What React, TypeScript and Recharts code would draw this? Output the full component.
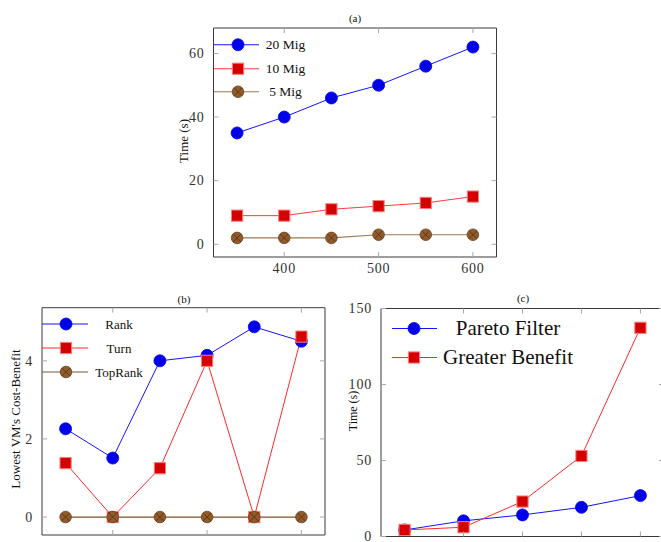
import React from "react";
import { LineChart, Line, XAxis, YAxis, Legend } from "recharts";

// (a) migration time
const migVms = [350, 400, 450, 500, 550, 600];
const mig20 = [35, 40, 46, 50, 56, 62];
const mig10 = [9, 9, 11, 12, 13, 15];
const mig5 = [2, 2, 2, 3, 3, 3];

// (b) lowest VM cost-benefit
const rankRuns = [1, 2, 3, 4, 5, 6];
const rankValues = [2.26, 1.51, 4.0, 4.14, 4.87, 4.5];
const turnValues = [1.38, 0, 1.25, 4.0, 0, 4.62];
const topRankValues = [0, 0, 0, 0, 0, 0];

// (c) filter time
const filterRuns = [1, 2, 3, 4, 5];
const paretoValues = [4.3, 10.3, 14.2, 19.2, 26.9];
const greaterValues = [4.3, 6.1, 23, 53, 137.3];

const ticksAX = [400, 500, 600];
const ticksAY = [0, 20, 40, 60];
const ticksBX = [2, 4, 6];
const ticksBY = [0, 2, 4];
const ticksCX = [2, 3, 4, 5];
const ticksCY = [0, 50, 100, 150];

const dataA = migVms.map((x, i) => ({ x, m20: mig20[i], m10: mig10[i], m5: mig5[i] }));
const dataB = rankRuns.map((x, i) => ({ x, rank: rankValues[i], turn: turnValues[i], top: topRankValues[i] }));
const dataC = filterRuns.map((x, i) => ({ x, pareto: paretoValues[i], greater: greaterValues[i] }));

type Marker = "circle" | "square" | "otimes";

const styles: Record<string, { marker: Marker; line: string }> = {
  m20: { marker: "circle", line: "#1414ff" },
  m10: { marker: "square", line: "#ff3a3a" },
  m5: { marker: "otimes", line: "#9c7a58" },
  rank: { marker: "circle", line: "#1414ff" },
  turn: { marker: "square", line: "#ff2a2a" },
  top: { marker: "otimes", line: "#80522a" },
  pareto: { marker: "circle", line: "#1414ff" },
  greater: { marker: "square", line: "#ff2a2a" },
};
const legendOrder = Object.keys(styles);

const SERIF = "'Liberation Serif', 'Times New Roman', serif";
const TICK_GRAY = "#a8a8a8";
const BOX = "#3a3a3a";

function marker(kind: Marker, cx: number, cy: number, key?: string) {
  if (cx == null || cy == null) return <g key={key} />;
  if (kind === "circle") {
    return <circle key={key} cx={cx} cy={cy} r={6} fill="#0000e6" stroke="#0000ff" strokeWidth={0.8} />;
  }
  if (kind === "square") {
    return (
      <rect key={key} x={cx - 5.6} y={cy - 5.6} width={11.2} height={11.2} fill="#d40000" stroke="#ff7c7c" strokeWidth={1} />
    );
  }
  const d = 3.9;
  return (
    <g key={key}>
      <circle cx={cx} cy={cy} r={5.8} fill="#8f5a2c" stroke="#6a4019" strokeWidth={0.8} />
      <line x1={cx - d} y1={cy - d} x2={cx + d} y2={cy + d} stroke="#55320f" strokeWidth={0.8} />
      <line x1={cx - d} y1={cy + d} x2={cx + d} y2={cy - d} stroke="#55320f" strokeWidth={0.8} />
    </g>
  );
}

const dotFor = (kind: Marker) => (p: any) => marker(kind, p.cx, p.cy, `dot-${p.index}`);

const tickFont = { fontFamily: SERIF, fontSize: 14, fill: "#333", letterSpacing: 0.8 };

const LeftTick = (p: any) => (
  <g>
    <line x1={p.x} y1={p.y} x2={p.x + 5} y2={p.y} stroke={TICK_GRAY} />
    <text x={p.x - 9} y={p.y} dy="0.34em" textAnchor="end" {...tickFont}>
      {p.payload.value}
    </text>
  </g>
);

const RightTick = (p: any) => <line x1={p.x - 5} y1={p.y} x2={p.x} y2={p.y} stroke={TICK_GRAY} />;

const BottomTick = (p: any) => (
  <g>
    <line x1={p.x} y1={p.y - 5} x2={p.x} y2={p.y} stroke={TICK_GRAY} />
    <text x={p.x} y={p.y + 16} textAnchor="middle" {...tickFont}>
      {p.payload.value}
    </text>
  </g>
);

// labels of (b) and (c) fall below the picture, only the marks show
const BottomMark = (p: any) => <line x1={p.x} y1={p.y - 5} x2={p.x} y2={p.y} stroke={TICK_GRAY} />;

const TopTick = (p: any) => <line x1={p.x} y1={p.y} x2={p.x} y2={p.y + 5} stroke={TICK_GRAY} />;

function legendContent(lineW: number, markAt: number, textW: number, rowH: number, fontSize: number) {
  return (props: any) => {
    const items = [...(props.payload || [])].sort(
      (a: any, b: any) => legendOrder.indexOf(a.dataKey) - legendOrder.indexOf(b.dataKey)
    );
    return (
      <div>
        {items.map((entry: any) => {
          const st = styles[entry.dataKey];
          return (
            <div key={entry.dataKey} style={{ display: "flex", alignItems: "center", height: rowH }}>
              <svg width={lineW} height={rowH} style={{ display: "block" }}>
                <line x1={0} y1={rowH / 2} x2={lineW} y2={rowH / 2} stroke={st.line} strokeWidth={1} />
                {marker(st.marker, markAt, rowH / 2)}
              </svg>
              <span
                style={{
                  width: textW,
                  textAlign: "center",
                  fontFamily: SERIF,
                  fontSize,
                  color: "#111",
                  lineHeight: 1,
                  whiteSpace: "nowrap",
                }}
              >
                {entry.value}
              </span>
            </div>
          );
        })}
      </div>
    );
  };
}

// axes are 1px thick so Recharts still draws them; margins are reduced by 1 to compensate
const axisProps = {
  tickSize: 0,
  tickMargin: 0,
  tickLine: false,
  allowDataOverflow: true,
  interval: 0 as const,
  axisLine: { stroke: BOX, strokeWidth: 1 },
};

export default function App() {
  return (
    <div
      style={{
        position: "fixed",
        left: 0,
        top: 0,
        width: 661,
        height: 542,
        overflow: "hidden",
        background: "#fff",
      }}
    >
      {/* (a) */}
      <div style={{ position: "absolute", left: 150, top: 0 }}>
        <LineChart width={360} height={285} data={dataA} margin={{ top: 27, right: 12.5, bottom: 27, left: 62.5 }}>
          <XAxis xAxisId="b" dataKey="x" type="number" domain={[325, 625]} ticks={ticksAX} height={1} tick={BottomTick} {...axisProps} />
          <XAxis xAxisId="t" dataKey="x" type="number" orientation="top" domain={[325, 625]} ticks={ticksAX} height={1} tick={TopTick} {...axisProps} />
          <YAxis yAxisId="l" type="number" domain={[-4, 68]} ticks={ticksAY} width={1} tick={LeftTick} {...axisProps} />
          <YAxis yAxisId="r" type="number" orientation="right" domain={[-4, 68]} ticks={ticksAY} width={1} tick={RightTick} {...axisProps} />
          <Legend
            layout="vertical"
            align="center"
            verticalAlign="middle"
            wrapperStyle={{ left: 63.5, top: 33, width: 110 }}
            content={legendContent(45, 24, 54, 23.5, 13.5)}
          />
          <Line xAxisId="b" yAxisId="l" dataKey="m20" name="20 Mig" stroke={styles.m20.line} strokeWidth={1} dot={dotFor("circle")} activeDot={false} isAnimationActive={false} />
          <Line xAxisId="b" yAxisId="l" dataKey="m10" name="10 Mig" stroke={styles.m10.line} strokeWidth={1} dot={dotFor("square")} activeDot={false} isAnimationActive={false} />
          <Line xAxisId="b" yAxisId="l" dataKey="m5" name="5 Mig" stroke={styles.m5.line} strokeWidth={1.2} dot={dotFor("otimes")} activeDot={false} isAnimationActive={false} />
        </LineChart>
      </div>

      {/* (b) */}
      <div style={{ position: "absolute", left: 0, top: 285 }}>
        <LineChart width={340} height={257} data={dataB} margin={{ top: 21.7, right: 14, bottom: 6, left: 41 }}>
          <XAxis xAxisId="b" dataKey="x" type="number" domain={[0.5, 6.5]} ticks={ticksBX} height={1} tick={BottomMark} {...axisProps} />
          <XAxis xAxisId="t" dataKey="x" type="number" orientation="top" domain={[0.5, 6.5]} ticks={ticksBX} height={1} tick={TopTick} {...axisProps} />
          <YAxis yAxisId="l" type="number" domain={[-0.46, 5.36]} ticks={ticksBY} width={1} tick={LeftTick} {...axisProps} />
          <YAxis yAxisId="r" type="number" orientation="right" domain={[-0.46, 5.36]} ticks={ticksBY} width={1} tick={RightTick} {...axisProps} />
          <Legend
            layout="vertical"
            align="center"
            verticalAlign="middle"
            wrapperStyle={{ left: 42, top: 27, width: 110 }}
            content={legendContent(46, 24, 62, 24, 13)}
          />
          <Line xAxisId="b" yAxisId="l" dataKey="rank" name="Rank" stroke={styles.rank.line} strokeWidth={1} dot={dotFor("circle")} activeDot={false} isAnimationActive={false} />
          <Line xAxisId="b" yAxisId="l" dataKey="turn" name="Turn" stroke={styles.turn.line} strokeWidth={1} dot={dotFor("square")} activeDot={false} isAnimationActive={false} />
          <Line xAxisId="b" yAxisId="l" dataKey="top" name="TopRank" stroke={styles.top.line} strokeWidth={1.2} dot={dotFor("otimes")} activeDot={false} isAnimationActive={false} />
        </LineChart>
      </div>

      {/* (c) */}
      <div style={{ position: "absolute", left: 340, top: 285 }}>
        <LineChart width={330} height={257} data={dataC} margin={{ top: 22.5, right: 5, bottom: 4.5, left: 40 }}>
          <XAxis xAxisId="b" dataKey="x" type="number" domain={[0.6, 5.4]} ticks={ticksCX} height={1} tick={BottomMark} {...axisProps} />
          <XAxis xAxisId="t" dataKey="x" type="number" orientation="top" domain={[0.6, 5.4]} ticks={ticksCX} height={1} tick={TopTick} {...axisProps} />
          <YAxis yAxisId="l" type="number" domain={[0, 150]} ticks={ticksCY} width={1} tick={LeftTick} {...axisProps} />
          <YAxis yAxisId="r" type="number" orientation="right" domain={[0, 150]} ticks={ticksCY} width={1} tick={RightTick} {...axisProps} />
          <Legend
            layout="vertical"
            align="center"
            verticalAlign="middle"
            wrapperStyle={{ left: 52, top: 28.5, width: 200 }}
            content={legendContent(45, 22, 142, 29, 21)}
          />
          <Line xAxisId="b" yAxisId="l" dataKey="pareto" name="Pareto Filter" stroke={styles.pareto.line} strokeWidth={1} dot={dotFor("circle")} activeDot={false} isAnimationActive={false} />
          <Line xAxisId="b" yAxisId="l" dataKey="greater" name="Greater Benefit" stroke={styles.greater.line} strokeWidth={1} dot={dotFor("square")} activeDot={false} isAnimationActive={false} />
        </LineChart>
      </div>

      {/* titles and axis labels */}
      <svg width={661} height={542} style={{ position: "absolute", left: 0, top: 0, pointerEvents: "none" }}>
        <g fontFamily={SERIF} fill="#111">
          <text x={355} y={18} dy="0.35em" textAnchor="middle" fontSize={11}>(a)</text>
          <text x={184} y={299} dy="0.35em" textAnchor="middle" fontSize={11}>(b)</text>
          <text x={523} y={298} dy="0.35em" textAnchor="middle" fontSize={11}>(c)</text>
          <text transform="translate(183,141) rotate(-90)" dy="0.35em" textAnchor="middle" fontSize={13}>Time (s)</text>
          <text transform="translate(15,419) rotate(-90)" dy="0.35em" textAnchor="middle" fontSize={13}>Lowest VM's Cost-Benefit</text>
          <text transform="translate(353,411) rotate(-90)" dy="0.35em" textAnchor="middle" fontSize={12}>Time (s)</text>
        </g>
      </svg>
    </div>
  );
}
